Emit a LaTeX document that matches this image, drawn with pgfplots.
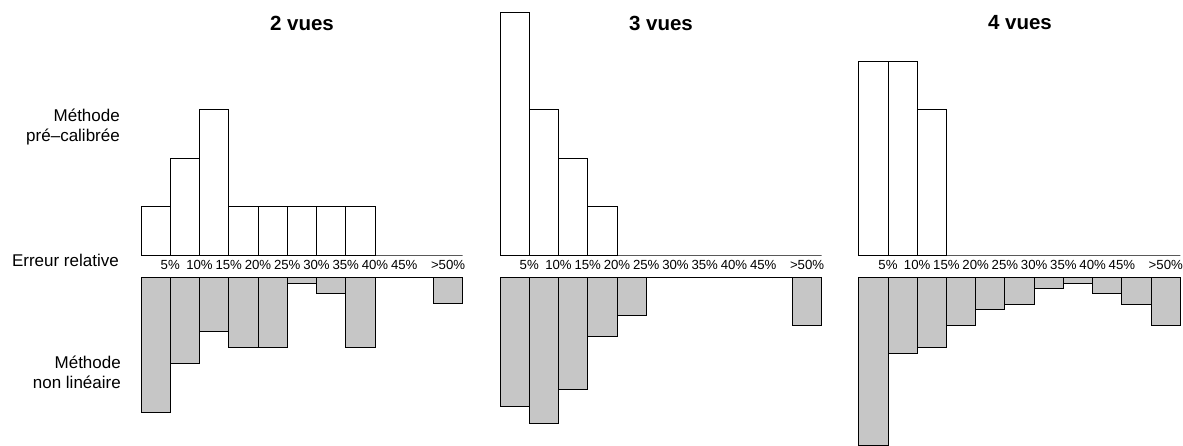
\documentclass[border=0pt]{standalone}
\usepackage{pgfplots}
\usepackage{pgfplotstable}
\pgfplotsset{compat=1.18}
\usepackage{fontspec}
\setmainfont{Liberation Sans}
\definecolor{hatch}{RGB}{198,198,198}

\pgfplotstableread{
x    u1     u2     u3     l1    l2    l3
0.5  9.09   45.45  36.36  25.3  24.3  31.5
1.5  18.18  27.27  36.36  16.2  27.4  14.3
2.5  27.27  18.18  27.27  10.2  21.1  13.2
3.5  9.09   9.09   0      13.1  11.1  9.1
4.5  9.09   0      0      13.1  7.1   6.1
5.5  9.09   0      0      1.1   0     5.1
6.5  9.09   0      0      3.1   0     2.1
7.5  9.09   0      0      13.1  0     1.1
8.5  0      0      0      0     0     3.1
9.5  0      0      0      0     0     5.1
10.5 0      0      0      5.0   9.1   9.1
}\datatable

\pgfplotsset{
  hist/.style={
    scale only axis, width=321.7pt, xmin=0, xmax=11,
    ybar, bar width=1, bar shift=0pt, clip=false,
    every axis plot/.append style={line width=0.9pt, draw=black},
  },
  upper/.style={hist, height=245.2pt, ymin=0, ymax=46,
    anchor=south west,
    axis y line=none, axis x line*=bottom,
    x axis line style={draw=none},
    major tick length=0pt,
    xtick={1,2,3,4,5,6,7,8,9,10.5},
    xticklabels={5\%,10\%,15\%,20\%,25\%,30\%,35\%,40\%,45\%,>50\%},
    xticklabel style={font=\fontsize{13.2}{15}\selectfont, inner sep=0pt, anchor=north, yshift=-5pt},
    /pgf/number format/assume math mode=true,
  },
  lower/.style={hist, height=170.6pt, ymin=-32, ymax=0,
    anchor=north west, hide axis},
}

\begin{document}
\begin{tikzpicture}[x=1pt,y=1pt]
\useasboundingbox (0pt,0pt) rectangle (1183pt,446pt);

% Panel 1
\begin{axis}[upper, at={(141pt,191pt)}]
\addplot[fill=white] table[x=x,y=u1]{\datatable};
\end{axis}
\begin{axis}[lower, at={(141pt,168.7pt)}]
\addplot[fill=hatch] table[x=x,y expr=-\thisrow{l1}]{\datatable};
\end{axis}

% Panel 2
\begin{axis}[upper, at={(500pt,191pt)}]
\addplot[fill=white] table[x=x,y=u2]{\datatable};
\end{axis}
\begin{axis}[lower, at={(500pt,168.7pt)}]
\addplot[fill=hatch] table[x=x,y expr=-\thisrow{l2}]{\datatable};
\end{axis}

% Panel 3
\begin{axis}[upper, at={(858.7pt,191pt)}]
\addplot[fill=white] table[x=x,y=u3]{\datatable};
\end{axis}
\begin{axis}[lower, at={(858.7pt,168.7pt)}]
\addplot[fill=hatch] table[x=x,y expr=-\thisrow{l3}]{\datatable};
\end{axis}

% Titles
\node[font=\fontsize{20.5}{24}\selectfont\bfseries] at (302pt,423pt) {2 vues};
\node[font=\fontsize{20.5}{24}\selectfont\bfseries] at (661pt,423pt) {3 vues};
\node[font=\fontsize{20.5}{24}\selectfont\bfseries] at (1020pt,423pt) {4 vues};

% Left labels
\node[font=\fontsize{17}{20}\selectfont, align=right, anchor=east, inner sep=0pt] at (120pt,319pt) {Méthode\\pré–calibrée};
\node[font=\fontsize{17}{20}\selectfont, anchor=east, inner sep=0pt] at (119pt,186pt) {Erreur relative};
\node[font=\fontsize{17}{20}\selectfont, align=right, anchor=east, inner sep=0pt] at (121pt,74pt) {Méthode\\non linéaire};
\end{tikzpicture}
\end{document}
